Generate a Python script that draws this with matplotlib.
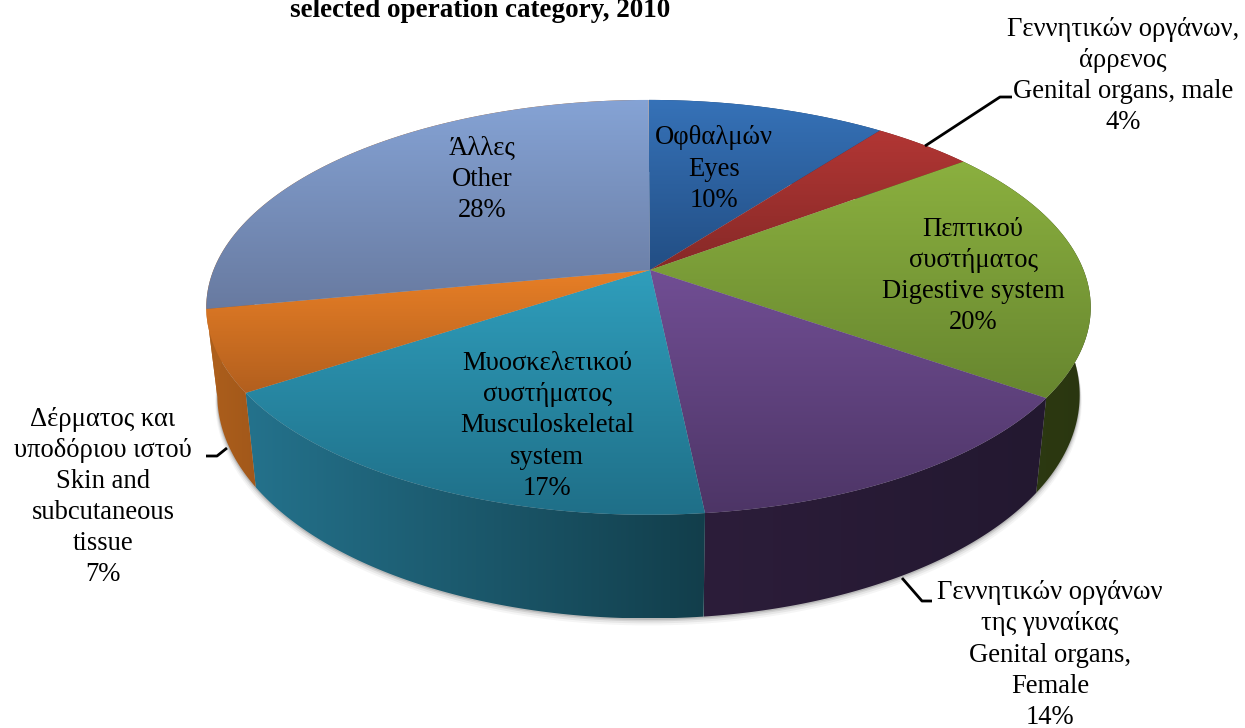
import numpy as np
import matplotlib
matplotlib.use("Agg")
import matplotlib.pyplot as plt
from matplotlib.colors import to_rgb
from matplotlib.patches import Polygon

labels = [
    "Οφθαλμών\nEyes",
    "Γεννητικών οργάνων,\nάρρενος\nGenital organs, male",
    "Πεπτικού\nσυστήματος\nDigestive system",
    "Γεννητικών οργάνων\nτης γυναίκας\nGenital organs,\nFemale",
    "Μυοσκελετικού\nσυστήματος\nMusculoskeletal\nsystem",
    "Δέρματος και\nυποδόριου ιστού\nSkin and\nsubcutaneous\ntissue",
    "Άλλες\nOther",
]
values = [10.4, 4.4, 19.9, 13.6, 17.4, 6.3, 28.0]
shown = [10, 4, 20, 14, 17, 7, 28]

top_light = ["#3672b8", "#b23634", "#8bb03f", "#714e94", "#2f9ebc", "#e87f26", "#85a3d5"]
top_dark = ["#224e84", "#862927", "#67862f", "#4d3566", "#1f6f88", "#b25f1e", "#687aa0"]
side_left = ["#1c3e68", "#6b201e", "#2f3c13", "#2c1d3a", "#24728c", "#ad5f1c", "#ad5f1c"]
side_right = ["#1c3e68", "#6b201e", "#2a3610", "#231830", "#123e4b", "#a2581a", "#ad5f1c"]

label_pos = [(714, 169), (1123, 76), (973, 276), (1050, 655), (547, 426), (103, 497), (482, 179)]
leaders = [
    None,
    [(925, 146), (1000, 97), (1012, 97)],
    None,
    [(902, 578), (922, 601), (932, 601)],
    None,
    [(227, 448), (217, 456), (206, 456)],
    None,
]

# pie geometry in image pixels, with a simple perspective
cx, cy = 650, 270
rim_dx = -1.5
rx, ry = 435, 200.7
persp = 0.18
depth = 85
shrink = 0.975


def project(theta, low=False):
    u, v = np.sin(theta), np.cos(theta)
    w = 1 + persp * v
    x = rx * u / w
    y = -ry * v / w
    if low:
        return cx + rim_dx + x * shrink, cy + y + depth / w
    return cx + rim_dx + x, cy + y


def gradient_fill(ax, xs, ys, c1, c2, horizontal, zorder):
    poly = Polygon(np.column_stack([xs, ys]), closed=True, fc="none", ec="none", transform=ax.transData)
    ax.add_patch(poly)
    c1, c2 = np.array(to_rgb(c1)), np.array(to_rgb(c2))
    t = np.linspace(0, 1, 256)[:, None]
    img = (c1 * (1 - t) + c2 * t)[:, None, :]
    if horizontal:
        img = img.transpose(1, 0, 2)
    im = ax.imshow(img, extent=(min(xs), max(xs), max(ys), min(ys)), aspect="auto",
                   interpolation="bilinear", zorder=zorder)
    im.set_clip_path(poly)


fig = plt.figure(figsize=(12.45, 7.28), dpi=100)
ax = fig.add_axes([0, 0, 1, 1])
plt.rcParams["font.family"] = ["Liberation Serif", "DejaVu Serif"]

edges = np.cumsum([0] + values) / sum(values) * 2 * np.pi

# soft shadow under the pie
full = np.linspace(0, 2 * np.pi, 400)
bx, by = project(full, low=True)
for off, alpha in [(7, 0.06), (5, 0.09), (3, 0.14), (1.5, 0.2)]:
    ax.fill(bx + off * 0.3 * np.sin(full), by + off, color="#555555", alpha=alpha, lw=0, zorder=1)

# outer walls first, the top face covers what is behind
for i in range(len(values)):
    th = np.linspace(edges[i], edges[i + 1], 80)
    x1, y1 = project(th)
    x2, y2 = project(th, low=True)
    xs = np.r_[x1, x2[::-1]]
    ys = np.r_[y1, y2[::-1]]
    gradient_fill(ax, xs, ys, side_left[i], side_right[i], True, 2)

# top faces, each slice goes light to dark downwards
for i in range(len(values)):
    th = np.linspace(edges[i], edges[i + 1], 80)
    x1, y1 = project(th)
    xs = np.r_[cx, x1]
    ys = np.r_[cy, y1]
    gradient_fill(ax, xs, ys, top_light[i], top_dark[i], False, 3)

for i in range(len(values)):
    txt = labels[i] + "\n%d%%" % shown[i]
    x, y = label_pos[i]
    ax.text(x, y, txt, ha="center", va="center", ma="center", fontsize=19.2, linespacing=1.317,
            color="black", zorder=5)
    if leaders[i] is not None:
        pts = np.array(leaders[i])
        ax.plot(pts[:, 0], pts[:, 1], color="black", lw=2, zorder=4, solid_capstyle="butt")

ax.text(480, 17, "selected operation category, 2010", ha="center", va="baseline", fontsize=19.5,
        fontweight="bold", color="black", zorder=5)

ax.set_xlim(0, 1245)
ax.set_ylim(728, 0)
ax.axis("off")

fig.savefig("out.png", dpi=100)
